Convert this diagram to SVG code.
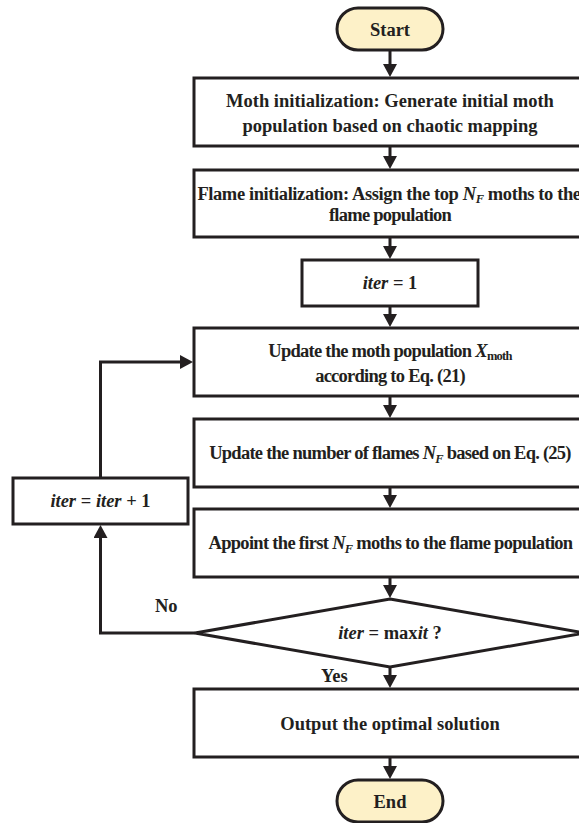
<svg xmlns="http://www.w3.org/2000/svg" width="579" height="823" viewBox="0 0 579 823">
<style>
.box{fill:#ffffff;stroke:#231f20;stroke-width:3}
.term{fill:#fdf1c8;stroke:#231f20;stroke-width:3}
text{font-family:'Liberation Serif',serif;font-weight:bold;font-size:18.5px;fill:#231f20}
.t{text-anchor:middle}
.n{letter-spacing:-0.75px}
.i{font-style:italic}
.sub{font-size:12.5px}
.c{fill:none;stroke:#231f20;stroke-width:3}
</style>
<defs>
<marker id="ah" viewBox="0 0 13 14" refX="9" refY="7" markerWidth="13" markerHeight="14" markerUnits="userSpaceOnUse" orient="auto">
<path d="M0,0 L13,7 L0,14 z" fill="#231f20"/>
</marker>
</defs>
<rect width="579" height="823" fill="#ffffff"/>
<g id="connectors">
<line class="c" x1="390" y1="50" x2="390" y2="73" marker-end="url(#ah)"/>
<line class="c" x1="390" y1="146" x2="390" y2="165" marker-end="url(#ah)"/>
<line class="c" x1="390" y1="237" x2="390" y2="255" marker-end="url(#ah)"/>
<line class="c" x1="390" y1="306" x2="390" y2="323" marker-end="url(#ah)"/>
<line class="c" x1="390" y1="396" x2="390" y2="414" marker-end="url(#ah)"/>
<line class="c" x1="390" y1="487" x2="390" y2="504" marker-end="url(#ah)"/>
<line class="c" x1="390" y1="577" x2="390" y2="594" marker-end="url(#ah)"/>
<line class="c" x1="390" y1="667" x2="390" y2="684" marker-end="url(#ah)"/>
<line class="c" x1="390" y1="757" x2="390" y2="775" marker-end="url(#ah)"/>
<polyline class="c" points="195,633 100.5,633 100.5,529" marker-end="url(#ah)"/>
<polyline class="c" points="100.5,478 100.5,362 189,362" marker-end="url(#ah)"/>
<text x="155" y="612">No</text>
<text x="321" y="681.5">Yes</text>
</g>
<g id="start">
<rect class="term" x="337" y="8" width="106" height="42" rx="21"/>
<text class="t" x="390" y="36">Start</text>
</g>
<g id="moth-init">
<rect class="box" x="194" y="78" width="392" height="68"/>
<text class="t" x="390" y="106.7">Moth initialization: Generate initial moth</text>
<text class="t" x="390" y="131.7">population based on chaotic mapping</text>
</g>
<g id="flame-init">
<rect class="box" x="194" y="170" width="392" height="67"/>
<text class="t" x="389" y="199.5" style="letter-spacing:-0.4px">Flame initialization: Assign the top <tspan class="i">N</tspan><tspan class="i sub" dy="3.5">F</tspan><tspan dy="-3.5"> moths to the</tspan></text>
<text class="t n" x="390" y="220.5">flame population</text>
</g>
<g id="iter-init">
<rect class="box" x="302" y="260" width="176" height="46"/>
<text class="t" x="390" y="288.5"><tspan class="i">iter</tspan> = 1</text>
</g>
<g id="update-moth">
<rect class="box" x="194" y="328" width="392" height="68"/>
<text class="t n" x="390" y="356.7">Update the moth population <tspan class="i">X</tspan><tspan class="sub" dy="3.5">moth</tspan></text>
<text class="t n" x="390" y="381.7">according to Eq. (21)</text>
</g>
<g id="update-flames">
<rect class="box" x="194" y="419" width="392" height="68"/>
<text class="t n" x="390" y="459">Update the number of flames <tspan class="i">N</tspan><tspan class="i sub" dy="3.5">F</tspan><tspan dy="-3.5"> based on Eq. (25)</tspan></text>
</g>
<g id="appoint">
<rect class="box" x="194" y="509" width="392" height="68"/>
<text class="t" x="390.5" y="549" style="letter-spacing:-0.7px">Appoint the first <tspan class="i">N</tspan><tspan class="i sub" dy="3.5">F</tspan><tspan dy="-3.5"> moths to the flame population</tspan></text>
</g>
<g id="decision">
<polygon class="box" points="390,599 585,633 390,667 195,633"/>
<text class="t" x="390" y="639"><tspan class="i">iter</tspan> = max<tspan class="i">it</tspan> ?</text>
</g>
<g id="iter-inc">
<rect class="box" x="13" y="478" width="175" height="46"/>
<text class="t" x="100.5" y="506.7"><tspan class="i">iter</tspan> = <tspan class="i">iter</tspan> + 1</text>
</g>
<g id="output">
<rect class="box" x="194" y="689" width="392" height="68"/>
<text class="t" x="390" y="730">Output the optimal solution</text>
</g>
<g id="end">
<rect class="term" x="337" y="780" width="106" height="42" rx="21"/>
<text class="t" x="390" y="808">End</text>
</g>
</svg>
